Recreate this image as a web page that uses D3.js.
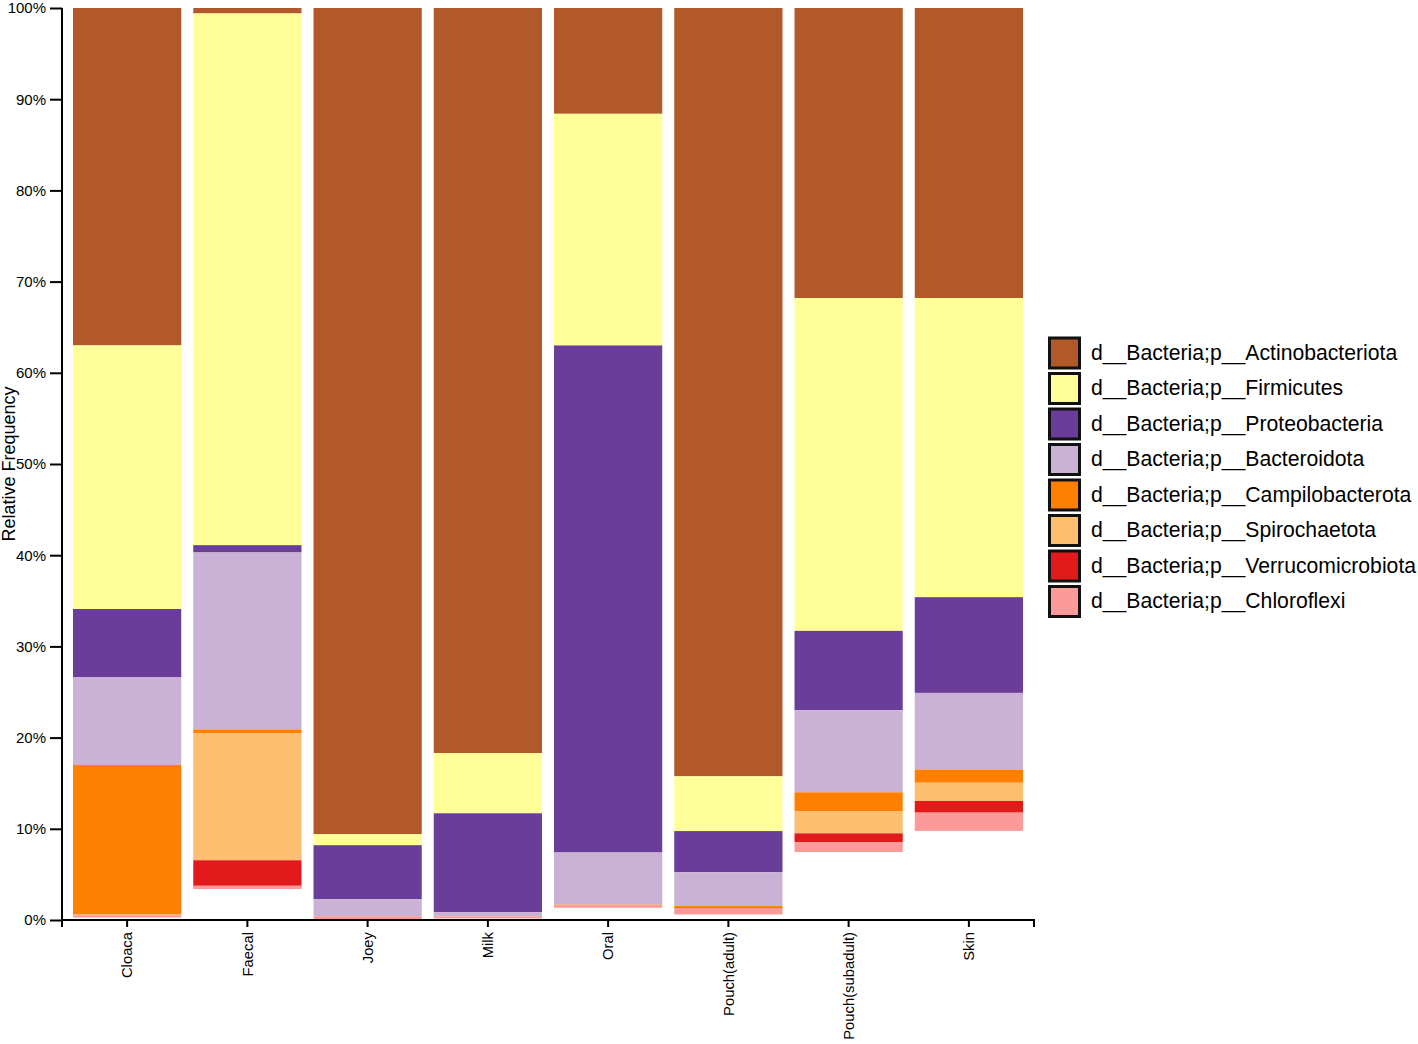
<!DOCTYPE html>
<html>
<head>
<meta charset="utf-8">
<script src="https://cdn.jsdelivr.net/npm/d3@7"></script>
<style>
  body { margin: 0; background: #fff; }
  svg { display: block; font-family: "Liberation Sans", Arial, sans-serif; }
</style>
</head>
<body>
<svg id="chart" width="1418" height="1044"></svg>
<script>
const categories = ["Cloaca", "Faecal", "Joey", "Milk", "Oral", "Pouch(adult)", "Pouch(subadult)", "Skin"];
const phyla = [
  "d__Bacteria;p__Actinobacteriota",
  "d__Bacteria;p__Firmicutes",
  "d__Bacteria;p__Proteobacteria",
  "d__Bacteria;p__Bacteroidota",
  "d__Bacteria;p__Campilobacterota",
  "d__Bacteria;p__Spirochaetota",
  "d__Bacteria;p__Verrucomicrobiota",
  "d__Bacteria;p__Chloroflexi"
];
const actinobacteriota = [37.0, 0.6, 90.6, 81.7, 11.6, 84.25, 31.8, 31.8];
const firmicutes       = [28.9, 58.3, 1.2, 6.6, 25.4, 6.0, 36.5, 32.8];
const proteobacteria   = [7.5, 0.8, 5.9, 10.85, 55.6, 4.5, 8.7, 10.5];
const bacteroidota     = [9.6, 19.4, 1.86, 0.44, 5.7, 3.7, 9.0, 8.4];
const campilobacterota = [16.4, 0.4, 0.02, 0.02, 0.03, 0.12, 2.1, 1.45];
const spirochaetota    = [0.05, 13.95, 0.01, 0.01, 0.02, 0.05, 2.4, 2.0];
const verrucomicrobiota= [0.03, 2.8, 0.01, 0.01, 0.01, 0.12, 0.95, 1.28];
const chloroflexi      = [0.25, 0.35, 0.35, 0.2, 0.3, 0.65, 1.1, 2.0];
const yTickValues = [0, 10, 20, 30, 40, 50, 60, 70, 80, 90, 100];
const colors = ["#B15928", "#FFFF99", "#6A3D9A", "#CAB2D6", "#FF7F00", "#FDBF6F", "#E31A1C", "#FB9A99"];

const seriesValues = [actinobacteriota, firmicutes, proteobacteria, bacteroidota,
  campilobacterota, spirochaetota, verrucomicrobiota, chloroflexi];

const rows = categories.map((c, i) => {
  const r = { category: c };
  phyla.forEach((p, j) => r[p] = seriesValues[j][i]);
  return r;
});

const svg = d3.select("#chart");
const x = d3.scaleBand().domain(categories).range([67, 1029]).paddingInner(0.1).paddingOuter(0.05);
const y = d3.scaleLinear().domain([0, 100]).range([920, 8]);
const color = d3.scaleOrdinal().domain(phyla).range(colors);

const stacked = d3.stack().keys(phyla)(rows);

const g = svg.append("g");
stacked.forEach(layer => {
  g.selectAll(null)
    .data(layer)
    .enter().append("rect")
    .attr("x", d => x(d.data.category))
    .attr("width", x.bandwidth())
    .attr("y", d => y(100 - d[0]))
    .attr("height", d => y(100 - d[1]) - y(100 - d[0]))
    .attr("fill", color(layer.key));
});

// Y axis
const yAxis = svg.append("g")
  .attr("transform", "translate(62,0)")
  .call(d3.axisLeft(y).tickValues(yTickValues).tickFormat(d => d + "%").tickSize(12).tickSizeOuter(0).tickPadding(4));
yAxis.selectAll("text").attr("font-size", 15).attr("fill", "#000").attr("font-family", "Liberation Sans, Arial, sans-serif");
yAxis.selectAll("line").attr("stroke", "#000").attr("stroke-width", 2);
yAxis.select(".domain").attr("stroke", "#000").attr("stroke-width", 2).attr("d", "M0,8V927");

// X axis
const xAxis = svg.append("g")
  .attr("transform", "translate(0,920)")
  .call(d3.axisBottom(x).tickSize(7).tickSizeOuter(0));
xAxis.select(".domain").attr("stroke", "#000").attr("stroke-width", 2).attr("d", "M62,7V0H1034V7");
xAxis.selectAll("line").attr("stroke", "#000").attr("stroke-width", 2);
xAxis.selectAll("text")
  .attr("font-size", 14.8)
  .attr("fill", "#000")
  .attr("font-family", "Liberation Sans, Arial, sans-serif")
  .attr("transform", "rotate(-90)")
  .attr("text-anchor", "end")
  .attr("dy", "0.35em")
  .attr("x", -12)
  .attr("y", 0);

// Y label
svg.append("text")
  .attr("transform", "translate(15,464) rotate(-90)")
  .attr("text-anchor", "middle")
  .attr("font-size", 18)
  .attr("fill", "#000")
  .text("Relative Frequency");

// Legend
const legend = svg.append("g");
phyla.forEach((p, i) => {
  const yy = 338 + i * 35.5;
  legend.append("rect")
    .attr("x", 1049.5).attr("y", yy)
    .attr("width", 30).attr("height", 30)
    .attr("fill", color(p))
    .attr("stroke", "#111").attr("stroke-width", 3);
  legend.append("text")
    .attr("x", 1091).attr("y", yy + 21.5)
    .attr("font-size", 21.2)
    .attr("fill", "#000")
    .text(p);
});
</script>
</body>
</html>
